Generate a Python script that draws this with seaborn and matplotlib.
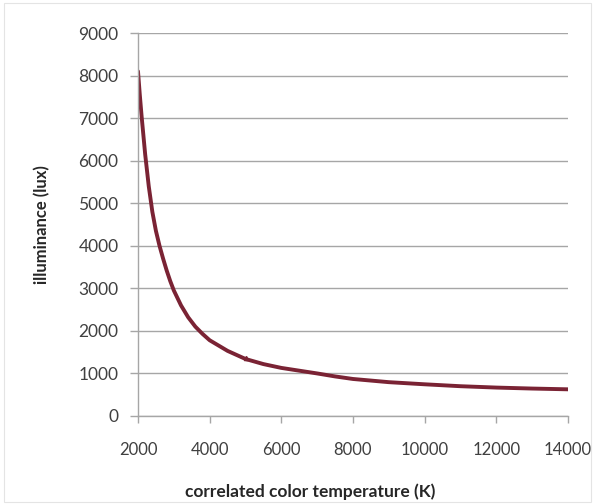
import matplotlib
matplotlib.use("Agg")
import matplotlib.pyplot as plt
import seaborn as sns
import pandas as pd
from matplotlib.patches import Rectangle

cct = [2000, 2050, 2100, 2150, 2200, 2300, 2400, 2500, 2600, 2700, 2800, 2900,
       3000, 3200, 3400, 3600, 3800, 4000, 4500, 5000, 5500, 6000, 6500, 7000,
       7500, 8000, 9000, 10000, 11000, 12000, 13000, 14000]
lux = [8100, 7550, 7050, 6600, 6150, 5400, 4800, 4350, 4000, 3700, 3420, 3170,
       2950, 2600, 2320, 2100, 1930, 1780, 1530, 1340, 1220, 1130, 1065, 1000,
       930, 870, 795, 745, 700, 668, 645, 627]
x_ticks = [2000, 4000, 6000, 8000, 10000, 12000, 14000]
y_ticks = [0, 1000, 2000, 3000, 4000, 5000, 6000, 7000, 8000, 9000]

df = pd.DataFrame({"cct": cct, "lux": lux})

sns.set_style("white")
plt.rcParams['font.family'] = ['Lato', 'DejaVu Sans']

fig = plt.figure(figsize=(5.95, 5.04), dpi=100)
ax = fig.add_axes([138/595, 1-416/504, (568-138)/595, (416-33)/504])

ax.yaxis.grid(True, color="#a6a6a6", linewidth=1.0)
ax.xaxis.grid(False)
ax.set_axisbelow(True)

sns.lineplot(data=df, x="cct", y="lux", ax=ax, color="#7a2334", linewidth=2.8,
             estimator=None, sort=True)
ax.plot([5000], [1365], marker="^", markersize=3, color="#7a2334")

ax.set_xlim(2000, 14000)
ax.set_ylim(0, 9000)
ax.set_xticks(x_ticks)
ax.set_yticks(y_ticks)
ax.set_xticklabels([str(v) for v in x_ticks], fontsize=12, color="#404040")
ax.set_yticklabels([str(v) for v in y_ticks], fontsize=12.5, color="#404040")
ax.tick_params(axis="x", length=5, width=1, color="#a6a6a6", pad=14, direction="out", bottom=True)
ax.tick_params(axis="y", length=6, width=1, color="#a6a6a6", pad=8, direction="out", left=True)

for s in ["top", "right"]:
    ax.spines[s].set_visible(False)
for s in ["left", "bottom"]:
    ax.spines[s].set_color("#a6a6a6")
    ax.spines[s].set_linewidth(1.0)

ax.set_xlabel("")
ax.set_ylabel("")
fig.text(310/595, 1-492/504, "correlated color temperature (K)", ha="center", va="center",
         fontsize=12.5, fontweight="bold", color="#262626")
fig.text(42/595, 1-225/504, "illuminance (lux)", ha="center", va="center", rotation=90,
         fontsize=12, fontweight="bold", color="#262626")

fig.patches.append(Rectangle((0.006, 0.004), 0.988, 0.99, transform=fig.transFigure,
                             fill=False, edgecolor="#e4e4e4", linewidth=0.8))

fig.savefig("out.png", dpi=100)
